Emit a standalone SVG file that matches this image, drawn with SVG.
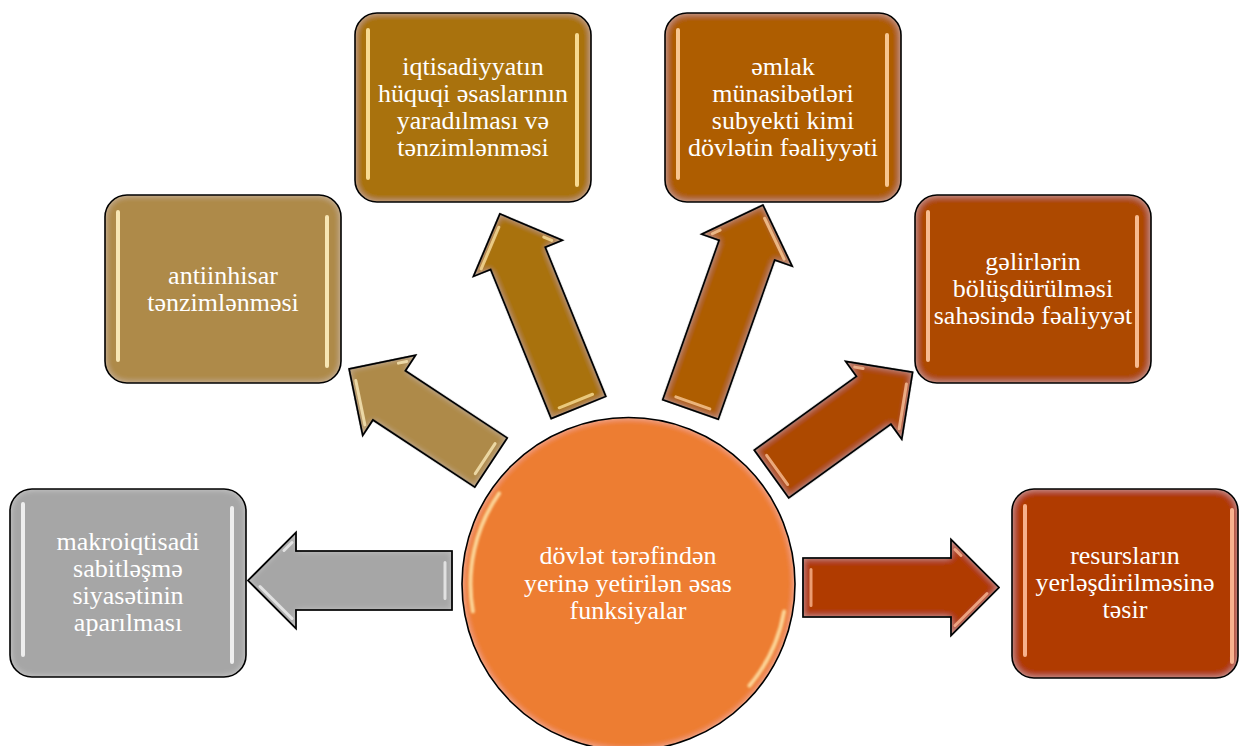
<svg xmlns="http://www.w3.org/2000/svg" width="1239" height="746" viewBox="0 0 1239 746">
  <defs>
    <filter id="glow" x="-10%" y="-10%" width="120%" height="120%">
      <feFlood flood-color="#ffffff" flood-opacity="0.4"/>
      <feComposite in2="SourceAlpha" operator="out"/>
      <feGaussianBlur stdDeviation="3.5"/>
      <feComposite in2="SourceAlpha" operator="in" result="ig"/>
      <feMerge><feMergeNode in="SourceGraphic"/><feMergeNode in="ig"/></feMerge>
    </filter>
    <filter id="soft" x="-20%" y="-20%" width="140%" height="140%">
      <feGaussianBlur stdDeviation="1"/>
    </filter>
  </defs>
  <style>
    .box { stroke: none; }
    .edge { fill: none; stroke: #000; stroke-width: 1.6; }
    .bar { fill: none; stroke-width: 4; stroke-linecap: round; opacity: 0.9; }
    .lbl { font-family: "Liberation Serif", "Times New Roman", serif; font-size: 26px; fill: #ffffff; text-anchor: middle; }
    .arr { stroke: #000; stroke-width: 1.6; stroke-linejoin: miter; }
    .hl { fill: none; stroke-width: 3; stroke-linecap: round; opacity: 0.75; }
  </style>

  <g id="connectors">
    <g id="arrow-left" transform="translate(452,580.5) rotate(180)">
      <path class="arr" fill="#a6a6a6" filter="url(#glow)" d="M0,-29.5 L156,-29.5 L156,-48 L204,0 L156,48 L156,29.5 L0,29.5 Z"/>
      <path class="edge" d="M0,-29.5 L156,-29.5 L156,-48 L204,0 L156,48 L156,29.5 L0,29.5 Z"/>
      <path class="hl" stroke="#f4f4f4" d="M7,-18 L7,18 M160,-38 L192,-6 M160,38 L168,30"/>
    </g>
    <g id="arrow-upleft" transform="translate(491,462.5) rotate(-146.6)">
      <path class="arr" fill="#ae8a48" filter="url(#glow)" d="M0,-29.5 L122,-29.5 L122,-48 L170,0 L122,48 L122,29.5 L0,29.5 Z"/>
      <path class="edge" d="M0,-29.5 L122,-29.5 L122,-48 L170,0 L122,48 L122,29.5 L0,29.5 Z"/>
      <path class="hl" stroke="#fff0c0" d="M7,-18 L7,18 M126,-38 L158,-6 M126,38 L132,32"/>
    </g>
    <g id="arrow-upmid" transform="translate(578.5,407.5) rotate(-112.1)">
      <path class="arr" fill="#a9720a" filter="url(#glow)" d="M0,-29.5 L161,-29.5 L161,-48 L209,0 L161,48 L161,29.5 L0,29.5 Z"/>
      <path class="edge" d="M0,-29.5 L161,-29.5 L161,-48 L209,0 L161,48 L161,29.5 L0,29.5 Z"/>
      <path class="hl" stroke="#ffe6a0" d="M7,-18 L7,18 M165,-38 L197,-6 M165,38 L171,32"/>
    </g>
    <g id="arrow-upright" transform="translate(690.5,409.5) rotate(-70.5)">
      <path class="arr" fill="#ae5d04" filter="url(#glow)" d="M0,-29.5 L169,-29.5 L169,-48 L217,0 L169,48 L169,29.5 L0,29.5 Z"/>
      <path class="edge" d="M0,-29.5 L169,-29.5 L169,-48 L217,0 L169,48 L169,29.5 L0,29.5 Z"/>
      <path class="hl" stroke="#ffd2a0" d="M7,-18 L7,18 M173,38 L205,6 M173,-38 L179,-32"/>
    </g>
    <g id="arrow-rightup" transform="translate(771.5,474) rotate(-35.8)">
      <path class="arr" fill="#ad4a02" filter="url(#glow)" d="M0,-29.5 L126,-29.5 L126,-48 L174,0 L126,48 L126,29.5 L0,29.5 Z"/>
      <path class="edge" d="M0,-29.5 L126,-29.5 L126,-48 L174,0 L126,48 L126,29.5 L0,29.5 Z"/>
      <path class="hl" stroke="#ffc8a0" d="M7,-18 L7,18 M130,38 L162,6 M130,-38 L136,-32"/>
    </g>
    <g id="arrow-right" transform="translate(803,587.5)">
      <path class="arr" fill="#b03a00" filter="url(#glow)" d="M0,-29.5 L148,-29.5 L148,-48 L196,0 L148,48 L148,29.5 L0,29.5 Z"/>
      <path class="edge" d="M0,-29.5 L148,-29.5 L148,-48 L196,0 L148,48 L148,29.5 L0,29.5 Z"/>
      <path class="hl" stroke="#ffbf9a" d="M8,-18 L8,18 M152,38 L184,6 M152,-38 L158,-32"/>
    </g>
  </g>

  <g id="node-makro">
    <rect class="box" x="10" y="489" width="236" height="188" rx="22" fill="#a6a6a6" filter="url(#glow)"/>
    <rect class="edge" x="10" y="489" width="236" height="188" rx="22"/>
    <path class="bar" stroke="#f6f6f6" d="M23,504 L23,655 M232,508 L232,662"/>
    <text class="lbl"><tspan x="128" y="550">makroiqtisadi</tspan><tspan x="128" y="577">sabitləşmə</tspan><tspan x="128" y="604">siyasətinin</tspan><tspan x="128" y="631">aparılması</tspan></text>
  </g>

  <g id="node-antiinhisar">
    <rect class="box" x="105" y="195" width="236" height="188" rx="22" fill="#ae8a48" filter="url(#glow)"/>
    <rect class="edge" x="105" y="195" width="236" height="188" rx="22"/>
    <path class="bar" stroke="#fff0c0" d="M118,212 L118,360 M327,217 L327,366"/>
    <text class="lbl"><tspan x="223" y="284">antiinhisar</tspan><tspan x="223" y="311">tənzimlənməsi</tspan></text>
  </g>

  <g id="node-iqtisadiyyat">
    <rect class="box" x="355" y="13" width="236" height="189" rx="22" fill="#a9720a" filter="url(#glow)"/>
    <rect class="edge" x="355" y="13" width="236" height="189" rx="22"/>
    <path class="bar" stroke="#ffe6a0" d="M368,30 L368,178 M577,35 L577,185"/>
    <text class="lbl"><tspan x="473" y="75">iqtisadiyyatın</tspan><tspan x="473" y="102">hüquqi əsaslarının</tspan><tspan x="473" y="129">yaradılması və</tspan><tspan x="473" y="156">tənzimlənməsi</tspan></text>
  </g>

  <g id="node-emlak">
    <rect class="box" x="665" y="13" width="236" height="189" rx="22" fill="#ae5d04" filter="url(#glow)"/>
    <rect class="edge" x="665" y="13" width="236" height="189" rx="22"/>
    <path class="bar" stroke="#ffd2a0" d="M678,30 L678,178 M887,35 L887,185"/>
    <text class="lbl"><tspan x="783" y="75">əmlak</tspan><tspan x="783" y="102">münasibətləri</tspan><tspan x="783" y="129">subyekti kimi</tspan><tspan x="783" y="156">dövlətin fəaliyyəti</tspan></text>
  </g>

  <g id="node-gelirler">
    <rect class="box" x="915" y="195" width="236" height="188" rx="22" fill="#ad4a02" filter="url(#glow)"/>
    <rect class="edge" x="915" y="195" width="236" height="188" rx="22"/>
    <path class="bar" stroke="#ffc8a0" d="M928,212 L928,360 M1137,217 L1137,366"/>
    <text class="lbl"><tspan x="1033" y="270">gəlirlərin</tspan><tspan x="1033" y="297">bölüşdürülməsi</tspan><tspan x="1033" y="324">sahəsində fəaliyyət</tspan></text>
  </g>

  <g id="node-resurs">
    <rect class="box" x="1012" y="489" width="226" height="189" rx="22" fill="#b03a00" filter="url(#glow)"/>
    <rect class="edge" x="1012" y="489" width="226" height="189" rx="22"/>
    <path class="bar" stroke="#ffbf9a" d="M1025,506 L1025,655 M1232,510 L1232,662"/>
    <text class="lbl"><tspan x="1125" y="564">resursların</tspan><tspan x="1125" y="591">yerləşdirilməsinə</tspan><tspan x="1125" y="618">təsir</tspan></text>
  </g>

  <g id="node-center">
    <circle cx="628.5" cy="584" r="166.5" fill="#ed7d31" filter="url(#glow)"/>
    <circle cx="628.5" cy="584" r="166.5" class="edge"/>
    <path fill="none" stroke="#ffe3a8" stroke-width="4" stroke-linecap="round" opacity="0.85" filter="url(#soft)" d="M499.1,493.4 A158,158 0 0 0 472.9,611.4 M784.1,611.4 A158,158 0 0 1 749.5,685.6"/>
    <text class="lbl"><tspan x="628" y="564">dövlət tərəfindən</tspan><tspan x="628" y="592">yerinə yetirilən əsas</tspan><tspan x="628" y="619">funksiyalar</tspan></text>
  </g>
</svg>
